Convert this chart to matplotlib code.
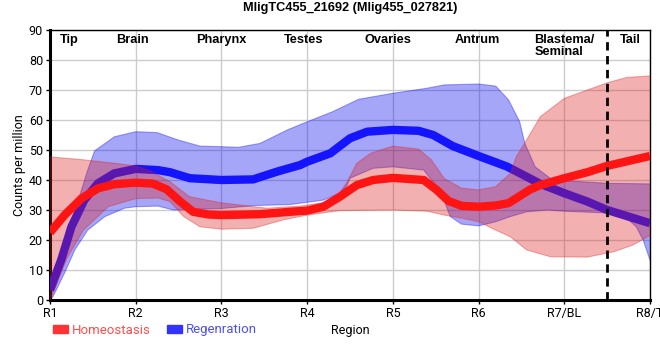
import numpy as np
import matplotlib.pyplot as plt
from matplotlib.patches import Patch

tick_labels = ['R1', 'R2', 'R3', 'R4', 'R5', 'R6', 'R7/BL', 'R8/T']
region_names = ['Tip', 'Brain', 'Pharynx', 'Testes', 'Ovaries', 'Antrum', 'Blastema/\nSeminal', 'Tail']
region_pos = [0.22, 0.96, 2.0, 2.96, 3.94, 4.98, 5.65, 6.77]
tail_split = 6.5

# Homeostasis (red)
homeo_x = [0, 0.17, 0.37, 0.56, 0.75, 1.0, 1.2, 1.36, 1.52, 1.67, 1.85, 2.0, 2.45, 2.8, 3.0, 3.19, 3.38,
           3.58, 3.77, 4.0, 4.36, 4.51, 4.65, 4.8, 5.0, 5.2, 5.35, 5.5, 5.6, 5.72, 6.0, 6.27, 6.5, 7.0]
homeo_mean = [22.5, 28.3, 33.9, 37.2, 38.6, 39.1, 38.8, 36.9, 32.8, 29.4, 28.5, 28.3, 28.6, 29.4, 29.8, 31.1, 34.4,
              38.3, 40.0, 40.7, 40.0, 36.7, 33.0, 31.4, 31.1, 31.5, 32.3, 35.0, 36.8, 38.3, 40.6, 42.6, 44.7, 48.0]
homeo_up_x = [0, 0.37, 0.75, 1.0, 1.17, 1.4, 1.63, 2.0, 2.53, 2.92, 3.2, 3.35, 3.46, 3.58, 3.74, 4.0, 4.3, 4.45,
              4.6, 4.8, 5.0, 5.2, 5.37, 5.44, 5.56, 5.72, 6.0, 6.27, 6.5, 6.73, 7.0]
homeo_up = [47.7, 46.8, 45.6, 44.7, 43.0, 39.4, 34.4, 32.4, 30.6, 31.3, 32.5, 34.5, 39.0, 45.6, 48.9, 51.3, 50.3, 46.7,
            40.5, 37.3, 36.7, 37.8, 42.2, 47.8, 53.3, 61.1, 67.2, 70.0, 72.4, 74.2, 74.7]
homeo_lo_x = [0, 0.05, 0.2, 0.39, 0.68, 1.0, 1.26, 1.4, 1.56, 1.75, 2.0, 2.37, 2.72, 3.0, 3.38, 4.0, 4.4, 4.6, 4.8,
              5.0, 5.2, 5.37, 5.56, 5.84, 6.27, 6.58, 6.8, 7.0]
homeo_lo = [0, 3.3, 14.0, 23.3, 31.1, 33.8, 34.0, 32.8, 27.8, 24.4, 23.6, 23.9, 26.7, 28.3, 29.8, 30.0, 29.6, 28.3, 27.3,
            26.1, 23.3, 21.1, 16.7, 14.4, 14.3, 16.1, 18.3, 21.5]

# Regenration (blue)
regen_x = [0, 0.13, 0.25, 0.4, 0.56, 0.75, 1.0, 1.26, 1.4, 1.63, 2.0, 2.37, 2.65, 2.92, 3.0, 3.27, 3.5, 3.7, 4.0,
           4.3, 4.47, 4.7, 5.0, 5.33, 5.56, 5.72, 6.0, 6.27, 6.5, 7.0]
regen_mean = [3.3, 13.3, 24.4, 33.3, 38.9, 42.2, 43.7, 43.3, 42.6, 40.6, 40.0, 40.2, 42.8, 45.0, 46.1, 48.9, 53.9,
              56.1, 56.7, 56.4, 55.0, 51.3, 48.0, 44.5, 41.1, 38.7, 35.6, 32.8, 30.0, 25.6]
regen_up_x = [0, 0.1, 0.2, 0.33, 0.44, 0.52, 0.75, 1.0, 1.25, 1.5, 1.75, 2.0, 2.2, 2.45, 2.77, 3.0, 3.3, 3.6, 4.0,
              4.4, 4.6, 5.0, 5.2, 5.35, 5.48, 5.54, 5.66, 5.84, 6.0, 6.5, 7.0]
regen_up = [6.0, 14.0, 22.2, 33.3, 43.3, 49.7, 54.4, 56.1, 55.8, 53.3, 51.3, 51.1, 50.9, 52.2, 56.7, 59.4, 62.8, 66.9,
            68.9, 70.6, 71.7, 72.0, 71.3, 66.7, 59.4, 52.2, 44.4, 40.5, 39.8, 38.9, 38.7]
regen_lo_x = [0, 0.035, 0.17, 0.29, 0.44, 0.64, 0.87, 1.0, 1.26, 1.44, 2.0, 2.4, 2.8, 3.19, 3.38, 3.46, 3.5, 3.77,
              4.0, 4.36, 4.51, 4.6, 4.67, 4.8, 5.0, 5.2, 5.37, 5.56, 5.8, 6.0, 6.5, 6.73, 6.84, 6.92, 7.0]
regen_lo = [0, 1.1, 9.0, 16.7, 23.3, 27.8, 30.6, 31.1, 31.3, 30.0, 30.5, 31.5, 31.8, 33.3, 35.6, 37.8, 40.6, 43.9,
            44.4, 43.3, 37.8, 33.0, 27.8, 25.3, 24.7, 26.1, 27.8, 29.4, 30.0, 29.6, 29.0, 27.2, 24.4, 20.0, 13.3]

plt.rcParams['font.family'] = ['Roboto', 'DejaVu Sans']

fig = plt.figure(figsize=(6.6, 3.6), dpi=100)
ax = fig.add_axes([50 / 660, 60 / 360, 600 / 660, 270 / 360])


def band(xu, yu, xl, yl, color, z):
    xs = np.concatenate([xu, xl[::-1]])
    ys = np.concatenate([yu, yl[::-1]])
    ax.fill(xs, ys, facecolor=color, alpha=0.35, edgecolor='none', zorder=z)
    ax.plot(xu, yu, color=color, alpha=0.35, lw=0.8, zorder=z)
    ax.plot(xl, yl, color=color, alpha=0.35, lw=0.8, zorder=z)


band(regen_up_x, regen_up, regen_lo_x, regen_lo, '#0000f0', 2)
ax.plot(regen_x, regen_mean, color='#1414ff', lw=6, solid_capstyle='butt', zorder=3)
band(homeo_up_x, homeo_up, homeo_lo_x, homeo_lo, '#dc1e1e', 4)
ax.plot(homeo_x, homeo_mean, color='#ff1414', lw=6, solid_capstyle='butt', zorder=5)

ax.axvline(tail_split, color='black', lw=2, ls=(0, (3, 2)), zorder=6)

for pos, name in zip(region_pos, region_names):
    ha = 'left' if '\n' in name else 'center'
    ax.text(pos, 88.7, name, ha=ha, va='top', fontsize=9.2, fontweight='bold',
            family='Liberation Sans', linespacing=1.05, zorder=7)

ax.set_xlim(0, 7)
ax.set_ylim(0, 90)
ax.set_xticks(range(len(tick_labels)))
ax.set_xticklabels(tick_labels)
ax.set_yticks(range(0, 91, 10))
ax.tick_params(labelsize=9, length=3, width=1, pad=2)
ax.grid(True, color='#cccccc', lw=1, zorder=0)
ax.set_axisbelow(True)
for side in ['left', 'bottom']:
    ax.spines[side].set_linewidth(2.2)
for side in ['top', 'right']:
    ax.spines[side].set_linewidth(1)

ax.set_ylabel('Counts per million', fontsize=9, labelpad=2)
ax.set_xlabel('Region', fontsize=9, labelpad=3)
ax.set_title('MligTC455_21692 (Mlig455_027821)', fontsize=9.2, fontweight='bold',
             family='Liberation Sans', pad=14)

handles = [Patch(color='#ff3333'), Patch(color='#3333ff')]
leg = fig.legend(handles, ['Homeostasis', 'Regenration'], loc='center left', bbox_to_anchor=(53 / 660, 1 - 330 / 360),
                 ncol=2, frameon=False, fontsize=9.5, handlelength=1.15, handleheight=0.6,
                 handletextpad=0.3, columnspacing=1.2, borderpad=0, borderaxespad=0)
for txt, c in zip(leg.get_texts(), ['#ff4d4d', '#4d4dff']):
    txt.set_color(c)

fig.savefig('out.png', dpi=100)
